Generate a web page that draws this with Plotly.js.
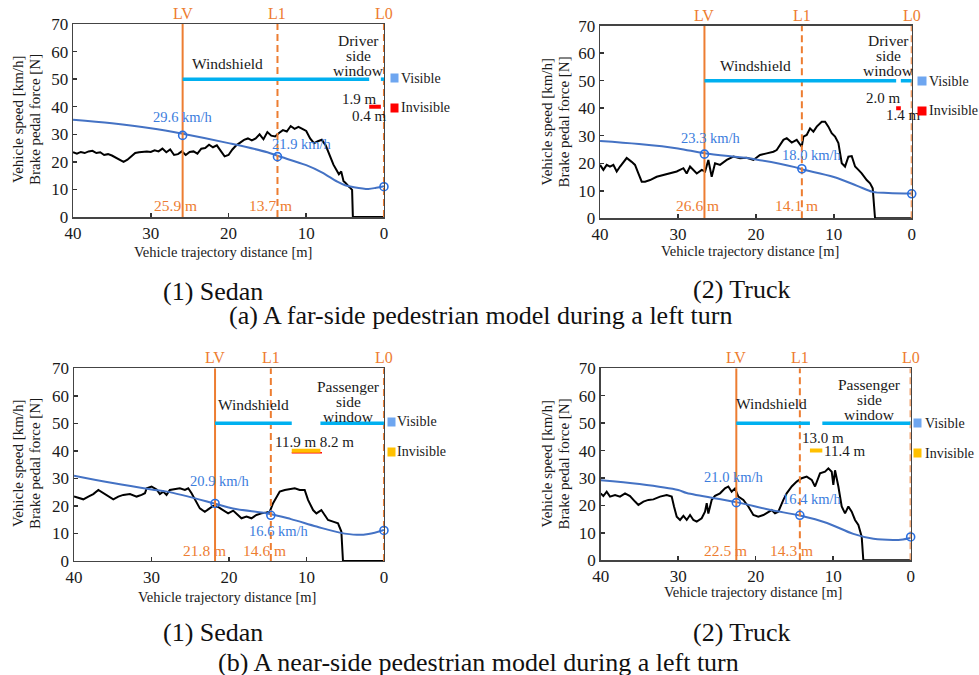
<!DOCTYPE html>
<html><head><meta charset="utf-8">
<script src="https://cdn.plot.ly/plotly-3.0.1.min.js"></script>
<style>html,body{margin:0;padding:0;background:#fff}#chart{width:979px;height:675px}</style>
</head><body><div id="chart"></div>
<script>
// ---------------- DATA ----------------
// (a)(1) far-side, sedan
const distA1 = [40,39.5,39,38.5,38,37.5,37,36.5,36,35.5,35,34.5,34,33.5,33,32.5,32,31.5,31,30.5,30,29.5,29,28.5,28,27.5,27,26.5,26,25.5,25,24.5,24,23.5,23,22.5,22,21.5,21,20.5,20,19.5,19,18.5,18,17.5,17,16.5,16,15.5,15,14.5,14,13.5,13,12.5,12,11.5,11,10.5,10,9.5,9,8.5,8,7.5,7,6.5,6,5.8,5.5,5.2,5,4.8,4.5,4.3,4.1,4.0,0];
const brakeA1 = [23.5,23.0,23.6,23.2,23.8,24.0,23.2,23.5,22.5,22.8,22.3,21.5,20.5,20.0,20.8,22.0,23.2,23.5,23.6,23.8,23.6,24.2,23.8,24.8,23.5,24.5,22.5,22.8,23.8,22.5,23.6,23.8,23.0,24.8,25.0,26.2,25.3,26.0,24.0,22.0,22.5,24.5,26.0,27.0,28.0,28.5,27.8,28.5,30.0,28.2,30.8,29.5,29.2,30.5,31.5,31.0,33.0,32.0,32.7,32.0,31.2,28.5,26.8,27.5,28.0,26.0,22.5,19.0,16.5,15.5,16.5,13.0,12.5,11.8,11.0,10.5,9.8,0,0];
const speedDistA1 = [40,35,30,25.9,20,15,13.7,10,8,6,5,4,2,1,0];
const speedA1 = [35.3,34.0,32.2,30.2,26.8,23.5,22.2,18.8,16.2,12.8,11.5,10.9,10.2,10.6,11.2];
const markDistA1 = [25.9,13.7,0];
const markSpeedA1 = [29.6,21.9,11.0];
const visStartA1 = [25.9,0.4], visEndA1 = [1.9,0];
const invStartA1 = [1.9], invEndA1 = [0.4];

// (a)(2) far-side, truck
const distA2 = [40,39.57,39.14,38.72,38.29,37.86,37.43,36.58,35.94,35.51,35.08,34.65,34.22,33.58,32.73,31.87,31.02,30.16,29.30,28.88,28.45,27.59,26.95,26.52,26.10,25.67,25.24,24.60,23.74,22.89,22.03,21.18,20.32,19.47,18.61,17.75,17.33,16.47,16.04,15.40,14.76,14.12,13.90,13.48,13.05,12.62,12.19,11.55,11.12,10.70,10.27,9.84,9.41,8.98,8.56,8.13,7.70,7.27,6.84,6.42,5.78,5.35,5.01,4.71,0];
const brakeA2 = [19.4,17.6,19.4,18.8,19.4,17.0,18.8,21.9,20.5,19.4,16.3,13.3,13.3,13.9,15.1,15.7,16.3,17.0,18.2,16.3,18.8,16.3,17.6,17.0,21.2,15.1,20.0,19.4,21.2,22.4,21.8,22.0,21.2,23.0,23.6,24.2,24.8,28.5,29.1,27.5,28.5,26.0,29.7,30.3,32.7,31.5,33.3,35.1,35.1,33.3,30.9,29.7,27.3,20.0,18.8,22.4,22.6,18.8,17.6,16.3,13.9,12.7,10.9,0,0];
const speedDistA2 = [40,35,30,26.6,20,15,14.1,10,7,5,3,0];
const speedA2 = [28.1,27.0,25.4,23.6,21.4,18.6,17.8,15.0,11.8,9.6,9.2,9.0];
const markDistA2 = [26.6,14.1,0];
const markSpeedA2 = [23.3,18.0,8.9];
const visStartA2 = [26.6,1.4], visEndA2 = [2.0,0];
const invStartA2 = [2.0], invEndA2 = [1.4];

// (b)(1) near-side, sedan
const distB1 = [40,39.44,38.80,38.15,37.51,36.86,36.22,35.57,34.93,34.29,33.64,32.78,31.92,31.28,30.85,30.63,29.99,29.34,28.92,28.49,28.06,27.63,26.98,26.34,25.69,25.26,24.83,24.19,23.76,23.12,22.47,22.04,21.40,20.75,20.11,19.46,18.82,18.39,17.74,17.10,16.46,15.81,15.17,14.74,14.31,13.88,13.45,12.80,12.16,11.51,10.87,10.23,9.80,9.15,8.72,8.08,7.65,7.22,6.57,5.93,5.50,5.29,0];
const brakeB1 = [23.4,22.8,22.4,23.4,24.3,25.8,24.6,23.6,22.4,23.4,24.0,24.3,23.4,24.0,24.6,26.4,27.0,26.0,24.3,25.2,24.0,25.8,26.0,26.4,25.8,26.4,24.6,21.0,19.1,17.9,19.1,20.0,19.6,18.5,17.3,18.3,16.7,15.5,16.1,15.5,16.7,17.3,17.6,17.9,21.0,23.4,25.2,25.8,26.0,26.4,25.8,25.8,22.2,18.5,17.3,18.5,16.7,14.9,14.3,13.7,10.7,0,0];
const speedDistB1 = [40,35,30,28,22,19.5,14.7,12,8.7,5.7,3.5,2,0];
const speedB1 = [31.0,28.3,26.0,25.2,21.0,19.1,17.1,15.2,12.5,10.3,9.5,9.8,11.3];
const markDistB1 = [21.8,14.6,0];
const markSpeedB1 = [20.9,16.6,11.1];
const visStartB1 = [21.8,8.2], visEndB1 = [11.9,0];
const invStartB1 = [11.9], invEndB1 = [8.2];

// (b)(2) near-side, truck
const distB2 = [40,39.66,39.23,38.80,38.15,37.51,36.86,36.22,35.57,35.14,34.49,33.85,33.20,32.34,31.48,30.84,30.54,30.19,29.76,29.33,28.90,28.47,28.04,27.61,26.97,26.54,26.32,26.11,25.68,25.25,24.60,23.96,23.53,23.10,22.67,22.24,21.59,20.95,20.30,19.66,19.01,18.37,17.94,17.51,17.08,16.43,16.00,15.35,14.71,14.06,13.42,12.77,12.34,11.70,11.05,10.62,10.19,9.98,9.76,9.33,8.90,8.47,8.04,7.61,7.18,6.75,6.32,6.11,0];
const brakeB2 = [24.4,23.4,25.0,23.2,23.8,23.2,24.4,23.4,21.4,20.2,21.4,22.0,22.2,23.2,23.8,23.2,19.6,15.9,14.7,16.2,14.7,16.5,14.7,14.1,15.3,17.7,20.8,17.0,22.0,23.5,24.4,26.2,26.9,25.0,26.2,23.2,22.0,19.6,16.5,15.9,16.5,17.4,18.3,17.1,17.7,22.0,24.4,26.9,28.7,29.9,30.5,29.3,26.9,31.7,32.3,33.5,32.3,27.5,32.8,26.9,19.6,17.1,19.6,17.7,14.7,12.9,8.6,0,0];
const speedDistB2 = [40,35,30,28.9,22.5,18.2,14.3,10.8,7.4,4.8,2.2,1,0];
const speedB2 = [29.2,27.8,25.6,24.5,21.2,18.4,16.3,13.6,9.6,7.8,7.4,7.6,8.1];
const markDistB2 = [22.5,14.3,0];
const markSpeedB2 = [21.0,16.4,8.5];
const visStartB2 = [22.5,11.4], visEndB2 = [13.0,0];
const invStartB2 = [13.0], invEndB2 = [11.4];

const lineNames = ['LV','L1','L0'];
const visibleLevel = 50, invisibleLevel = 40;
const xTicks = [40,30,20,10,0];
const yTicks = [0,10,20,30,40,50,60,70];

// ---------------- STYLE / LAYOUT ----------------
const SERIF = '"Liberation Serif", "Times New Roman", serif';
const ORANGE = '#ed7d31', BLUE = '#4472c4', BLUETXT = '#3b7ddd', CYAN = '#00b0f0', TXT = '#1a1a1a';

const panels = [
  {xa:'x', ya:'y', dom:[[0.0746,0.3922],[0.6785,0.9644]],
   dist:distA1, brake:brakeA1, sd:speedDistA1, sv:speedA1, md:markDistA1, ms:markSpeedA1,
   vs:visStartA1, ve:visEndA1, is:invStartA1, ie:invEndA1, invColor:'#ff0000', underline:false,
   mOff:[0.9,0.9], mY:4.2, spPos:[[25.9,36.2],[10.6,26.5],[-1.1,19.1]],
   wsPos:[20.1,55.7], winPos:[3.3,58.5], winLines:['Driver','side','window'],
   barLabels:[{t:'1.9 m',x:3.2,y:42.7},{t:'0.4 m',x:1.8,y:36.7}],
   leg:{vy:50.3, iy:39.6, s0:6, s1:13, tx:15}},
  {xa:'x2', ya:'y2', dom:[[0.6129,0.9313],[0.6766,0.962]],
   dist:distA2, brake:brakeA2, sd:speedDistA2, sv:speedA2, md:markDistA2, ms:markSpeedA2,
   vs:visStartA2, ve:visEndA2, is:invStartA2, ie:invEndA2, invColor:'#ff0000', underline:false,
   mOff:[0.95,0.7], mY:4.5, spPos:[[25.75,29.1],[12.83,23.0],[-1.07,15.1]],
   wsPos:[20.1,55.4], winPos:[3.0,59], winLines:['Driver','side','window'],
   barLabels:[{t:'2.0 m',x:3.64,y:43.8},{t:'1.4 m',x:1.07,y:37.5}],
   leg:{vy:49.8, iy:39.0, s0:5, s1:12.5, tx:15}},
  {xa:'x3', ya:'y3', dom:[[0.0756,0.3922],[0.1689,0.4544]],
   dist:distB1, brake:brakeB1, sd:speedDistB1, sv:speedB1, md:markDistB1, ms:markSpeedB1,
   vs:visStartB1, ve:visEndB1, is:invStartB1, ie:invEndB1, invColor:'#ffc000', underline:true,
   mOff:[1.4,0.8], mY:3.7, spPos:[[21.1,29.2],[13.5,11.0],[-1.9,17.1]],
   wsPos:[16.9,57.0], winPos:[4.6,58.1], winLines:['Passenger','side','window'],
   barLabels:[{t:'11.9 m 8.2 m',x:8.94,y:43.3}],
   leg:{vy:50.5, iy:39.7, s0:3, s1:9.5, tx:11.5}},
  {xa:'x4', ya:'y4', dom:[[0.6136,0.9302],[0.170,0.4544]],
   dist:distB2, brake:brakeB2, sd:speedDistB2, sv:speedB2, md:markDistB2, ms:markSpeedB2,
   vs:visStartB2, ve:visEndB2, is:invStartB2, ie:invEndB2, invColor:'#ffc000', underline:false,
   mOff:[1.37,1.05], mY:3.5, spPos:[[22.8,30.3],[12.77,22.2],[-1.2,13.7]],
   wsPos:[17.9,57], winPos:[5.3,58.8], winLines:['Passenger','side','window'],
   barLabels:[{t:'13.0 m',x:11.27,y:44.5},{t:'11.4 m',x:8.5,y:40.0}],
   leg:{vy:50.0, iy:39.0, s0:2, s1:9.3, tx:12}}
];

const traces = [], annotations = [];
const layout = {
  width:979, height:675, margin:{l:0,r:0,t:0,b:0},
  paper_bgcolor:'#fff', plot_bgcolor:'#fff', showlegend:false,
  font:{family:SERIF, color:TXT}
};

function ann(o){ annotations.push(Object.assign({showarrow:false, xanchor:'center', yanchor:'middle', font:{family:SERIF,size:15,color:TXT}}, o)); }

panels.forEach((p, i) => {
  const xk = 'xaxis' + (i ? i+1 : ''), yk = 'yaxis' + (i ? i+1 : '');
  const axBase = {ticks:'inside', ticklen:4, tickwidth:1.5, tickcolor:'#333', showgrid:false, zeroline:false,
    showline:true, linecolor:'#444', linewidth:1.5, mirror:true, tickfont:{family:SERIF, size:17, color:TXT}};
  layout[xk] = Object.assign({domain:p.dom[0], anchor:p.ya, range:[40,0], autorange:false, tickvals:xTicks}, axBase);
  layout[yk] = Object.assign({domain:p.dom[1], anchor:p.xa, range:[0,70], autorange:false, tickvals:yTicks}, axBase);

  // brake pedal force
  traces.push({x:p.dist, y:p.brake, xaxis:p.xa, yaxis:p.ya, mode:'lines', line:{color:'#000', width:2}, hoverinfo:'skip'});
  // speed
  traces.push({x:p.sd, y:p.sv, xaxis:p.xa, yaxis:p.ya, mode:'lines', line:{color:BLUE, width:2, shape:'spline', smoothing:1}, hoverinfo:'skip'});
  // vertical lines LV, L1, L0
  p.md.forEach((d, k) => {
    traces.push({x:[d,d], y:[yTicks[0], yTicks[yTicks.length-1]], xaxis:p.xa, yaxis:p.ya, mode:'lines',
      line:{color:ORANGE, width:2, dash: k===0 ? 'solid' : '7px,4px'}, hoverinfo:'skip'});
    ann({x:d, xref:p.xa, y:1, yref:p.ya+' domain', yanchor:'bottom', text:lineNames[k], font:{family:SERIF,size:16,color:ORANGE}});
    if (k < 2) ann({x:d + p.mOff[k], xref:p.xa, y:p.mY, yref:p.ya, text:d.toFixed(1)+' m', font:{family:SERIF,size:15.5,color:ORANGE}});
    ann({x:p.spPos[k][0], xref:p.xa, y:p.spPos[k][1], yref:p.ya, text:p.ms[k].toFixed(1)+' km/h', font:{family:SERIF,size:14.5,color:BLUETXT}});
  });
  // visible bars
  p.vs.forEach((s, k) => {
    traces.push({x:[s, p.ve[k]], y:[visibleLevel, visibleLevel], xaxis:p.xa, yaxis:p.ya, mode:'lines', line:{color:CYAN, width:3.5}, hoverinfo:'skip'});
  });
  // invisible bars
  p.is.forEach((s, k) => {
    if (p.underline) traces.push({x:[s, p.ie[k]-0.2], y:[invisibleLevel-0.7, invisibleLevel-0.7], xaxis:p.xa, yaxis:p.ya, mode:'lines', line:{color:'#ff0000', width:1.5}, hoverinfo:'skip'});
    traces.push({x:[s, p.ie[k]], y:[invisibleLevel, invisibleLevel], xaxis:p.xa, yaxis:p.ya, mode:'lines', line:{color:p.invColor, width:4}, hoverinfo:'skip'});
  });
  // speed markers
  traces.push({x:p.md, y:p.ms, xaxis:p.xa, yaxis:p.ya, mode:'markers', cliponaxis:false,
    marker:{symbol:'circle-open', size:8, line:{color:'#2a6fe0', width:1.6}, color:'#2a6fe0'}, hoverinfo:'skip'});

  // texts
  ann({x:p.wsPos[0], xref:p.xa, y:p.wsPos[1], yref:p.ya, text:'Windshield', font:{family:SERIF,size:15.5,color:TXT}});
  p.winLines.forEach((t, k) => ann({x:p.winPos[0], xref:p.xa, y:p.winPos[1], yref:p.ya, yshift:(1-k)*15, text:t, font:{family:SERIF,size:15.5,color:TXT}}));
  p.barLabels.forEach(b => ann({x:b.x, xref:p.xa, y:b.y, yref:p.ya, text:b.t, font:{family:SERIF,size:15,color:TXT}}));

  // legend-like keys
  [[p.leg.vy,'#6ea6f0','Visible'],[p.leg.iy,p.invColor,'Invisible']].forEach(([yy,col,txt]) => {
    ann({x:0, xref:p.xa, y:yy, yref:p.ya, xanchor:'left', xshift:p.leg.s0, text:' ', width:p.leg.s1-p.leg.s0, height:8, bgcolor:col, borderpad:0, font:{size:4}});
    ann({x:0, xref:p.xa, y:yy, yref:p.ya, xanchor:'left', xshift:p.leg.tx, text:txt, font:{family:SERIF,size:14,color:TXT}});
  });
});

// axis titles (placed in paper space)
const xTitlePos = [[223,252],[750,251],[227,597],[753,592]];
const yTitlePos = [[26.5,120],[555,122],[26.5,464],[555,464]];
xTitlePos.forEach(([px,py]) => ann({x:px/979, xref:'paper', y:1-py/675, yref:'paper', text:'Vehicle trajectory distance [m]', font:{family:SERIF,size:14.5,color:TXT}}));
yTitlePos.forEach(([px,py]) => {
  ann({x:(px-8.5)/979, xref:'paper', y:1-py/675, yref:'paper', textangle:-90, text:'Vehicle speed [km/h]', font:{family:SERIF,size:15,color:TXT}});
  ann({x:(px+8.5)/979, xref:'paper', y:1-py/675, yref:'paper', textangle:-90, text:'Brake pedal force [N]', font:{family:SERIF,size:15,color:TXT}});
});

// captions
const captions = [
  ['(1) Sedan',213,291],['(2) Truck',742,290],
  ['(a) A far-side pedestrian model during a left turn',480,315],
  ['(1) Sedan',213,632],['(2) Truck',742,632],
  ['(b) A near-side pedestrian model during a left turn',478,662]
];
captions.forEach(([t,px,py]) => ann({x:px/979, xref:'paper', y:1-py/675, yref:'paper', text:t, font:{family:SERIF,size:26,color:'#111'}}));

layout.annotations = annotations;
Plotly.newPlot('chart', traces, layout, {staticPlot:true, displayModeBar:false});
</script>
</body></html>
